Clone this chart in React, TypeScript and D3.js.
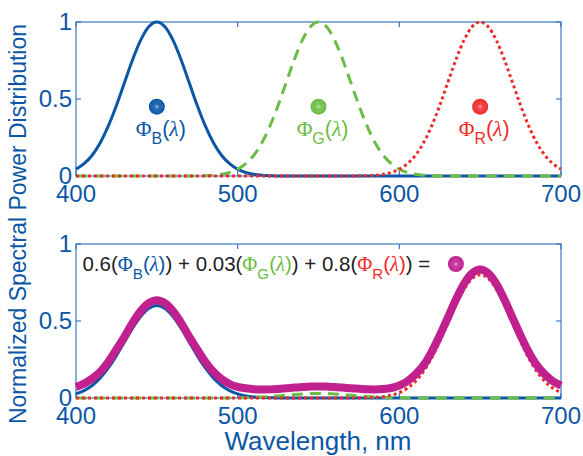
import React from 'react';
import * as d3 from 'd3';

// ---- data ----
const wavelengths: number[] = d3.range(400, 701, 5);

const phiB: number[] = [
  0.044, 0.080, 0.135, 0.216, 0.325, 0.458, 0.607, 0.755, 0.882, 0.969,
  1.000, 0.969, 0.882, 0.755, 0.607, 0.458, 0.325, 0.216, 0.135, 0.080,
  0.044, 0.023, 0.011, 0.005, 0.002, 0, 0, 0, 0, 0,
  0, 0, 0, 0, 0, 0, 0, 0, 0, 0,
  0, 0, 0, 0, 0, 0, 0, 0, 0, 0,
  0, 0, 0, 0, 0, 0, 0, 0, 0, 0,
  0,
];

const phiG: number[] = [
  0, 0, 0, 0, 0, 0, 0, 0, 0, 0,
  0, 0, 0, 0, 0, 0.001, 0.002, 0.005, 0.011, 0.023,
  0.044, 0.080, 0.135, 0.216, 0.325, 0.458, 0.607, 0.755, 0.882, 0.969,
  1.000, 0.969, 0.882, 0.755, 0.607, 0.458, 0.325, 0.216, 0.135, 0.080,
  0.044, 0.023, 0.011, 0.005, 0.002, 0, 0, 0, 0, 0,
  0, 0, 0, 0, 0, 0, 0, 0, 0, 0,
  0,
];

const phiR: number[] = [
  0, 0, 0, 0, 0, 0, 0, 0, 0, 0,
  0, 0, 0, 0, 0, 0, 0, 0, 0, 0,
  0, 0, 0, 0, 0, 0, 0, 0, 0, 0,
  0, 0, 0, 0, 0, 0.001, 0.002, 0.005, 0.011, 0.023,
  0.044, 0.080, 0.135, 0.216, 0.325, 0.458, 0.607, 0.755, 0.882, 0.969,
  1.000, 0.969, 0.882, 0.755, 0.607, 0.458, 0.325, 0.216, 0.135, 0.080,
  0.044,
];

const mixture: number[] = [
  0.072, 0.093, 0.126, 0.170, 0.235, 0.315, 0.399, 0.488, 0.564, 0.616,
  0.635, 0.616, 0.564, 0.488, 0.399, 0.315, 0.235, 0.170, 0.123, 0.091,
  0.072, 0.063, 0.057, 0.055, 0.056, 0.059, 0.063, 0.068, 0.071, 0.074,
  0.075, 0.074, 0.071, 0.068, 0.063, 0.060, 0.057, 0.055, 0.058, 0.065,
  0.081, 0.109, 0.153, 0.213, 0.300, 0.406, 0.521, 0.639, 0.741, 0.810,
  0.835, 0.810, 0.741, 0.639, 0.521, 0.406, 0.300, 0.213, 0.153, 0.109,
  0.081,
];

const weights: number[] = [0.6, 0.03, 0.8];
const weightLabels: string[] = ['0.6', '0.03', '0.8'];
const channelNames: string[] = ['B', 'G', 'R'];
const channelPeaks: number[] = [450, 550, 650];

const xTicks: number[] = [400, 500, 600, 700];
const yTicks: number[] = [0, 0.5, 1];
const yTickLabels: string[] = ['0', '0.5', '1'];

// ---- style ----
const BLUE = '#0b57a6';
const GREEN = '#6cbd45';
const RED = '#ee2b2b';
const MAGENTA = '#c0218e';
const AXIS = '#3a78c4';
const TEXT_BLUE = '#0b57a6';
const SANS = 'Liberation Sans, Arial, Helvetica, sans-serif';
const SERIF = 'Liberation Serif, Times New Roman, serif';

const W = 583;
const H = 456;

const x = d3.scaleLinear().domain([400, 700]).range([76, 561]);
const yTop = d3.scaleLinear().domain([0, 1]).range([176, 22]);
const yBot = d3.scaleLinear().domain([0, 1]).range([398, 244]);

function linePath(vals: number[], y: d3.ScaleLinear<number, number>) {
  const gen = d3
    .line<number>()
    .x((_, i) => x(wavelengths[i]))
    .y((d) => y(d))
    .curve(d3.curveMonotoneX);
  return gen(vals) || '';
}

function Axes({ y }: { y: d3.ScaleLinear<number, number> }) {
  const [x0, x1] = x.range();
  const [y0, y1] = y.range();
  const tl = 5;
  return (
    <g>
      <rect x={x0} y={y1} width={x1 - x0} height={y0 - y1} fill="none" stroke={AXIS} strokeWidth={1.2} />
      {xTicks.map((t) => (
        <g key={'xt' + t}>
          <line x1={x(t)} x2={x(t)} y1={y0} y2={y0 - tl} stroke={AXIS} strokeWidth={1.2} />
          <line x1={x(t)} x2={x(t)} y1={y1} y2={y1 + tl} stroke={AXIS} strokeWidth={1.2} />
          <text x={x(t)} y={y0 + 26} textAnchor="middle" fontFamily={SANS} fontSize={24} fill={TEXT_BLUE}>
            {t}
          </text>
        </g>
      ))}
      {yTicks.map((t, i) => (
        <g key={'yt' + t}>
          <line x1={x0} x2={x0 + tl} y1={y(t)} y2={y(t)} stroke={AXIS} strokeWidth={1.2} />
          <line x1={x1} x2={x1 - tl} y1={y(t)} y2={y(t)} stroke={AXIS} strokeWidth={1.2} />
          <text x={x0 - 4} y={y(t) + 8} textAnchor="end" fontFamily={SANS} fontSize={24} fill={TEXT_BLUE}>
            {yTickLabels[i]}
          </text>
        </g>
      ))}
    </g>
  );
}

function Marker({ cx, cy, color }: { cx: number; cy: number; color: string }) {
  const r = 8;
  const spokes = d3.range(8).map((k) => (k * Math.PI) / 8);
  return (
    <g>
      <circle cx={cx} cy={cy} r={r} fill={color} />
      {spokes.map((a, k) => (
        <line
          key={k}
          x1={cx - Math.cos(a) * (r - 1.5)}
          x2={cx + Math.cos(a) * (r - 1.5)}
          y1={cy - Math.sin(a) * (r - 1.5)}
          y2={cy + Math.sin(a) * (r - 1.5)}
          stroke="#ffffff"
          strokeOpacity={0.3}
          strokeWidth={0.6}
        />
      ))}
    </g>
  );
}

function PhiLabel({ name, color, fontSize }: { name: string; color: string; fontSize: number }) {
  return (
    <>
      <tspan fontFamily={SERIF} fill={color}>Φ</tspan>
      <tspan fontFamily={SANS} fill={color} fontSize={fontSize * 0.74} dy={fontSize * 0.38}>{name}</tspan>
      <tspan fontFamily={SANS} fill={color} dy={-fontSize * 0.38}>(</tspan>
      <tspan fontFamily={SERIF} fontStyle="italic" fill={color}>λ</tspan>
      <tspan fontFamily={SANS} fill={color}>)</tspan>
    </>
  );
}

const colors = [BLUE, GREEN, RED];
const series = [phiB, phiG, phiR];
const dashes = [undefined, '11,7', '3,3'];

export default function App() {
  return (
    <svg
      width={W}
      height={H}
      viewBox={`0 0 ${W} ${H}`}
      style={{ position: 'absolute', left: 0, top: 0, background: '#ffffff' }}
    >
      <rect x={0} y={0} width={W} height={H} fill="#ffffff" />
      {/* Top panel */}
      <Axes y={yTop} />
      {series.map((s, i) => (
        <path
          key={'top' + i}
          d={linePath(s, yTop)}
          fill="none"
          stroke={colors[i]}
          strokeWidth={3}
          strokeDasharray={dashes[i]}
        />
      ))}
      {channelPeaks.map((p, i) => (
        <g key={'lab' + i}>
          <Marker cx={x(p)} cy={yTop(0.45)} color={colors[i]} />
          <text x={x(p) + 4} y={yTop(0.26)} textAnchor="middle" fontSize={21.5} fontFamily={SANS}>
            <PhiLabel name={channelNames[i]} color={colors[i]} fontSize={21.5} />
          </text>
        </g>
      ))}

      {/* Bottom panel */}
      <Axes y={yBot} />
      {series.map((s, i) => (
        <path
          key={'bot' + i}
          d={linePath(s.map((v) => v * weights[i]), yBot)}
          fill="none"
          stroke={colors[i]}
          strokeWidth={3}
          strokeDasharray={dashes[i]}
        />
      ))}
      <path d={linePath(mixture, yBot)} fill="none" stroke={MAGENTA} strokeWidth={8} />

      <text x={x(404)} y={yBot(0.825)} fontSize={20.5} fontFamily={SANS} fill="#222222">
        {weightLabels.map((w, i) => (
          <React.Fragment key={'f' + i}>
            <tspan fill="#222222">{(i > 0 ? ' + ' : '') + w + '('}</tspan>
            <PhiLabel name={channelNames[i]} color={colors[i]} fontSize={20.5} />
            <tspan fill="#222222">{')'}</tspan>
          </React.Fragment>
        ))}
        <tspan fill="#222222">{' ='}</tspan>
      </text>
      <Marker cx={x(635)} cy={yBot(0.87)} color={MAGENTA} />

      {/* Axis titles */}
      <text
        transform={`translate(26, 224) rotate(-90)`}
        textAnchor="middle"
        fontFamily={SANS}
        fontSize={23}
        fill={TEXT_BLUE}
      >
        Normalized Spectral Power Distribution
      </text>
      <text x={318} y={450} textAnchor="middle" fontFamily={SANS} fontSize={26} fill={TEXT_BLUE}>
        Wavelength, nm
      </text>
    </svg>
  );
}
